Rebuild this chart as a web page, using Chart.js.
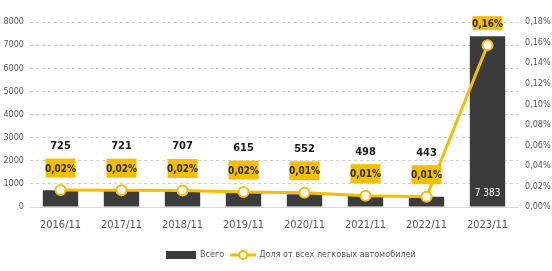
<!DOCTYPE html>
<html><head><meta charset="utf-8">
<script src="https://cdn.jsdelivr.net/npm/chart.js@4/dist/chart.umd.min.js"></script>
<style>html,body{margin:0;padding:0;background:#fff}#w{width:552px;height:271px;position:relative}</style>
</head><body><div id="w"><canvas id="c" width="552" height="271"></canvas></div>
<script>
const categories = ["2016/11","2017/11","2018/11","2019/11","2020/11","2021/11","2022/11","2023/11"];
const totalCars = [725, 721, 707, 615, 552, 498, 443, 7383];
const shareValues = [0.0165, 0.0164, 0.0161, 0.0145, 0.0138, 0.0110, 0.0100, 0.1575];
const shareLabels = ["0,02%","0,02%","0,02%","0,02%","0,01%","0,01%","0,01%","0,16%"];
const totalLabels = ["725","721","707","615","552","498","443","7 383"];
const seriesNames = ["Всего", "Доля от всех легковых автомобилей"];
const leftTicks = [0,1000,2000,3000,4000,5000,6000,7000,8000];

const FONT = '"DejaVu Sans Condensed","Liberation Sans Narrow","Arial Narrow",sans-serif';
const YEL = '#F5BE00';
const DARK = '#3B3B3B';

const labelPlugin = {
  id: 'labels',
  afterDatasetsDraw(chart) {
    const ctx = chart.ctx;
    const lineMeta = chart.getDatasetMeta(1);
    const barMeta = chart.getDatasetMeta(0);
    const last = totalCars.length - 1;
    ctx.save();
    lineMeta.data.forEach((pt, i) => {
      const x = pt.x, y = pt.y;
      const by = y - 22;
      const h = i === last ? 14 : 19;
      ctx.fillStyle = YEL;
      ctx.fillRect(x - 15, by - h / 2, 30, h);
      ctx.fillStyle = '#2b2b2b';
      ctx.font = 'bold 10px ' + FONT;
      ctx.textAlign = 'center';
      ctx.textBaseline = 'middle';
      ctx.fillText(shareLabels[i], x, by + 1);
      const bar = barMeta.data[i];
      if (i === last) {
        ctx.fillStyle = '#ffffff';
        ctx.font = '10px ' + FONT;
        ctx.fillText(totalLabels[i], bar.x, chart.chartArea.bottom - 14);
      } else {
        ctx.fillStyle = '#1a1a1a';
        ctx.font = 'bold 11px ' + FONT;
        ctx.fillText(totalLabels[i], x, y - 44);
      }
    });
    ctx.restore();
  },
  afterDraw(chart) {
    const ctx = chart.ctx;
    ctx.save();
    const ly = 255;
    ctx.font = '9px ' + FONT;
    ctx.textBaseline = 'middle';
    ctx.textAlign = 'left';
    const w0 = ctx.measureText(seriesNames[0]).width;
    let x = 166;
    ctx.fillStyle = DARK;
    ctx.fillRect(x, ly - 4, 30, 8);
    x += 34;
    ctx.fillStyle = '#595959';
    ctx.fillText(seriesNames[0], x, ly);
    x += w0 + 6;
    ctx.strokeStyle = YEL; ctx.lineWidth = 3;
    ctx.beginPath(); ctx.moveTo(x, ly); ctx.lineTo(x + 26, ly); ctx.stroke();
    ctx.fillStyle = '#fff'; ctx.lineWidth = 2;
    ctx.beginPath(); ctx.arc(x + 13, ly, 4, 0, Math.PI * 2); ctx.fill(); ctx.stroke();
    x += 29;
    ctx.fillStyle = '#595959';
    ctx.fillText(seriesNames[1], x, ly);
    ctx.restore();
  }
};

new Chart(document.getElementById('c'), {
  data: {
    labels: categories,
    datasets: [
      { type: 'bar', label: seriesNames[0], data: totalCars, backgroundColor: DARK,
        yAxisID: 'y', barPercentage: 0.58, categoryPercentage: 1, order: 2 },
      { type: 'line', label: seriesNames[1], data: shareValues, borderColor: YEL, borderWidth: 3,
        pointBackgroundColor: '#fff', pointBorderColor: YEL, pointBorderWidth: 2, pointRadius: 5,
        yAxisID: 'y1', tension: 0, order: 1 }
    ]
  },
  options: {
    responsive: false, animation: false, devicePixelRatio: 1,
    layout: { padding: { top: 22, left: 0, right: 0, bottom: 0 } },
    plugins: { legend: { display: false }, tooltip: { enabled: false } },
    scales: {
      x: {
        grid: { display: false, drawTicks: false }, border: { display: true, color: '#d9d9d9' },
        ticks: { color: '#595959', font: { family: FONT, size: 11 }, padding: 12, maxRotation: 0 },
        afterFit(s) { s.height = 64; }
      },
      y: {
        position: 'left', min: 0, max: 8000,
        afterBuildTicks(s) { s.ticks = leftTicks.map(v => ({ value: v })); },
        grid: { color: '#d0d0d0', drawTicks: false },
        border: { display: false, dash: [3, 3] },
        ticks: { color: '#595959', font: { family: FONT, size: 9 }, padding: 6,
          callback: v => String(v) },
        afterFit(s) { s.width = 30; }
      },
      y1: {
        position: 'right', min: 0, max: 0.18,
        ticks: { stepSize: 0.02, color: '#595959', font: { family: FONT, size: 9 }, padding: 7,
          callback: v => v.toFixed(2).replace('.', ',') + '%' },
        grid: { display: false, drawTicks: false }, border: { display: false },
        afterFit(s) { s.width = 34; }
      }
    }
  },
  plugins: [labelPlugin]
});
</script></body></html>
